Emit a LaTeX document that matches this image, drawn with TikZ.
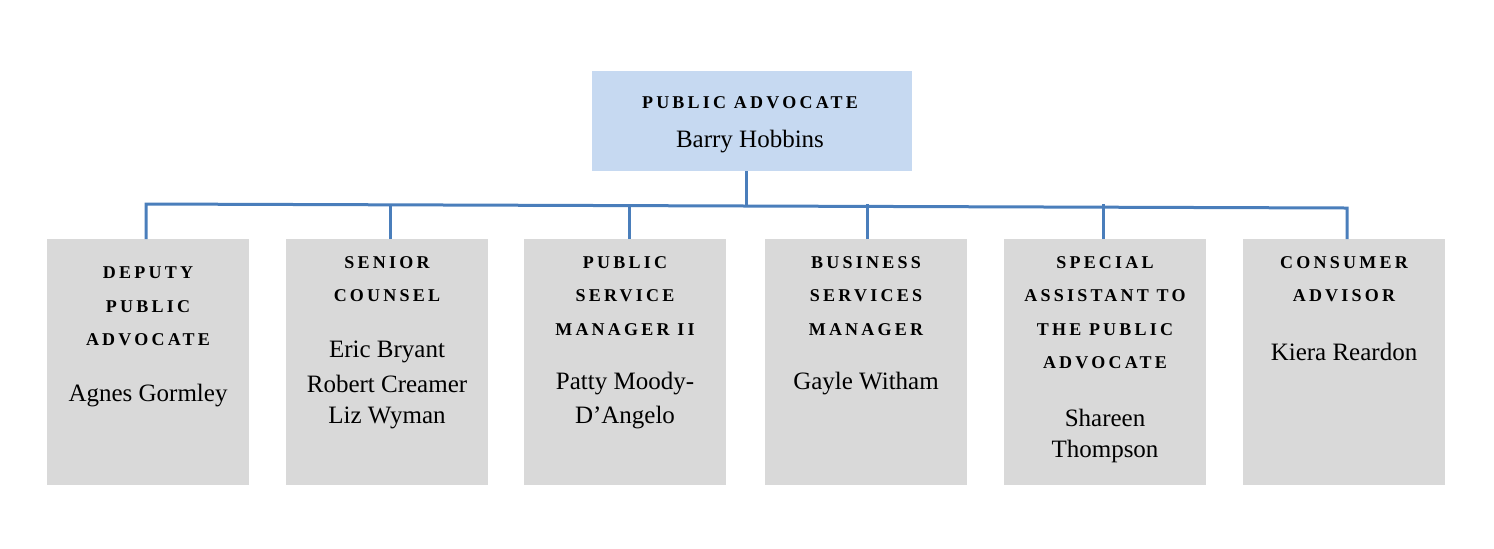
\documentclass[tikz,border=0pt]{standalone}
\usepackage{fontspec}
\setmainfont{Liberation Serif}
\newfontfamily\ttlfont[LetterSpace=18]{Liberation Serif}
\definecolor{topfill}{HTML}{C6D9F1}
\definecolor{boxfill}{HTML}{D9D9D9}
\definecolor{linec}{HTML}{4A7EBB}
\begin{document}
\begin{tikzpicture}[x=0.5pt,y=-0.5pt,
  topbox/.style={fill=topfill,draw=none,inner sep=0},
  gbox/.style={fill=boxfill,draw=none,inner sep=0},
  ttl/.style={font=\ttlfont\fontsize{9}{9}\selectfont\bfseries,inner sep=0},
  nm/.style={font=\fontsize{12.5}{12.5}\selectfont,inner sep=0},
  conn/.style={linec,line width=1.5pt}]
\useasboundingbox (0,0) rectangle (1494,548);
\fill[topfill] (592,71) rectangle (912,171);
\coordinate (top) at (746,171);
\node[ttl] (t0) at (750,103) {PUBLIC ADVOCATE};
\node[nm] (n0) at (750,142) {Barry Hobbins};
\foreach \i/\a/\c in {1/47/146,2/286/390,3/524/629,4/765/867,5/1004/1103,6/1243/1347}{
  \fill[boxfill] (\a,239) rectangle ++(202,246);
  \coordinate (b\i) at (\c,239);
}
\coordinate (L) at (146,204);
\coordinate (R) at (1347,208);
\coordinate (J) at (746,206);
\draw[conn] (top) -- (J);
\draw[conn] (b1) -- (L) -- (R) -- (b6);
\foreach \i/\y in {2/205,3/206,4/207,5/207.5}{
  \path (b\i) ++(0,-35) coordinate (h\i);
  \draw[conn] (b\i) -- (h\i);
}
% box 1
\node[ttl] (a1) at (148,273) {DEPUTY};
\node[ttl] (a2) at (148,307) {PUBLIC};
\node[ttl] (a3) at (148,340) {ADVOCATE};
\node[nm] (a4) at (148,396) {Agnes Gormley};
% box 2
\node[ttl] (c1) at (387,263) {SENIOR};
\node[ttl] (c2) at (387,296) {COUNSEL};
\node[nm] (c3) at (387,352) {Eric Bryant};
\node[nm] (c4) at (387,384) {Robert Creamer};
\node[nm] (c5) at (387,418) {Liz Wyman};
% box 3
\node[ttl] (d1) at (625,263) {PUBLIC};
\node[ttl] (d2) at (625,296) {SERVICE};
\node[ttl] (d3) at (625,330) {MANAGER II};
\node[nm] (d4) at (625,384) {Patty Moody-};
\node[nm] (d5) at (625,418) {D’Angelo};
% box 4
\node[ttl] (e1) at (866,263) {BUSINESS};
\node[ttl] (e2) at (866,296) {SERVICES};
\node[ttl] (e3) at (866,330) {MANAGER};
\node[nm] (e4) at (866,384) {Gayle Witham};
% box 5
\node[ttl] (f1) at (1105,263) {SPECIAL};
\node[ttl] (f2) at (1105,296) {ASSISTANT TO};
\node[ttl] (f3) at (1105,330) {THE PUBLIC};
\node[ttl] (f4) at (1105,363) {ADVOCATE};
\node[nm] (f5) at (1105,418) {Shareen};
\node[nm] (f6) at (1105,451) {Thompson};
% box 6
\node[ttl] (g1) at (1344,263) {CONSUMER};
\node[ttl] (g2) at (1344,296) {ADVISOR};
\node[nm] (g3) at (1344,352) {Kiera Reardon};
\end{tikzpicture}
\end{document}
